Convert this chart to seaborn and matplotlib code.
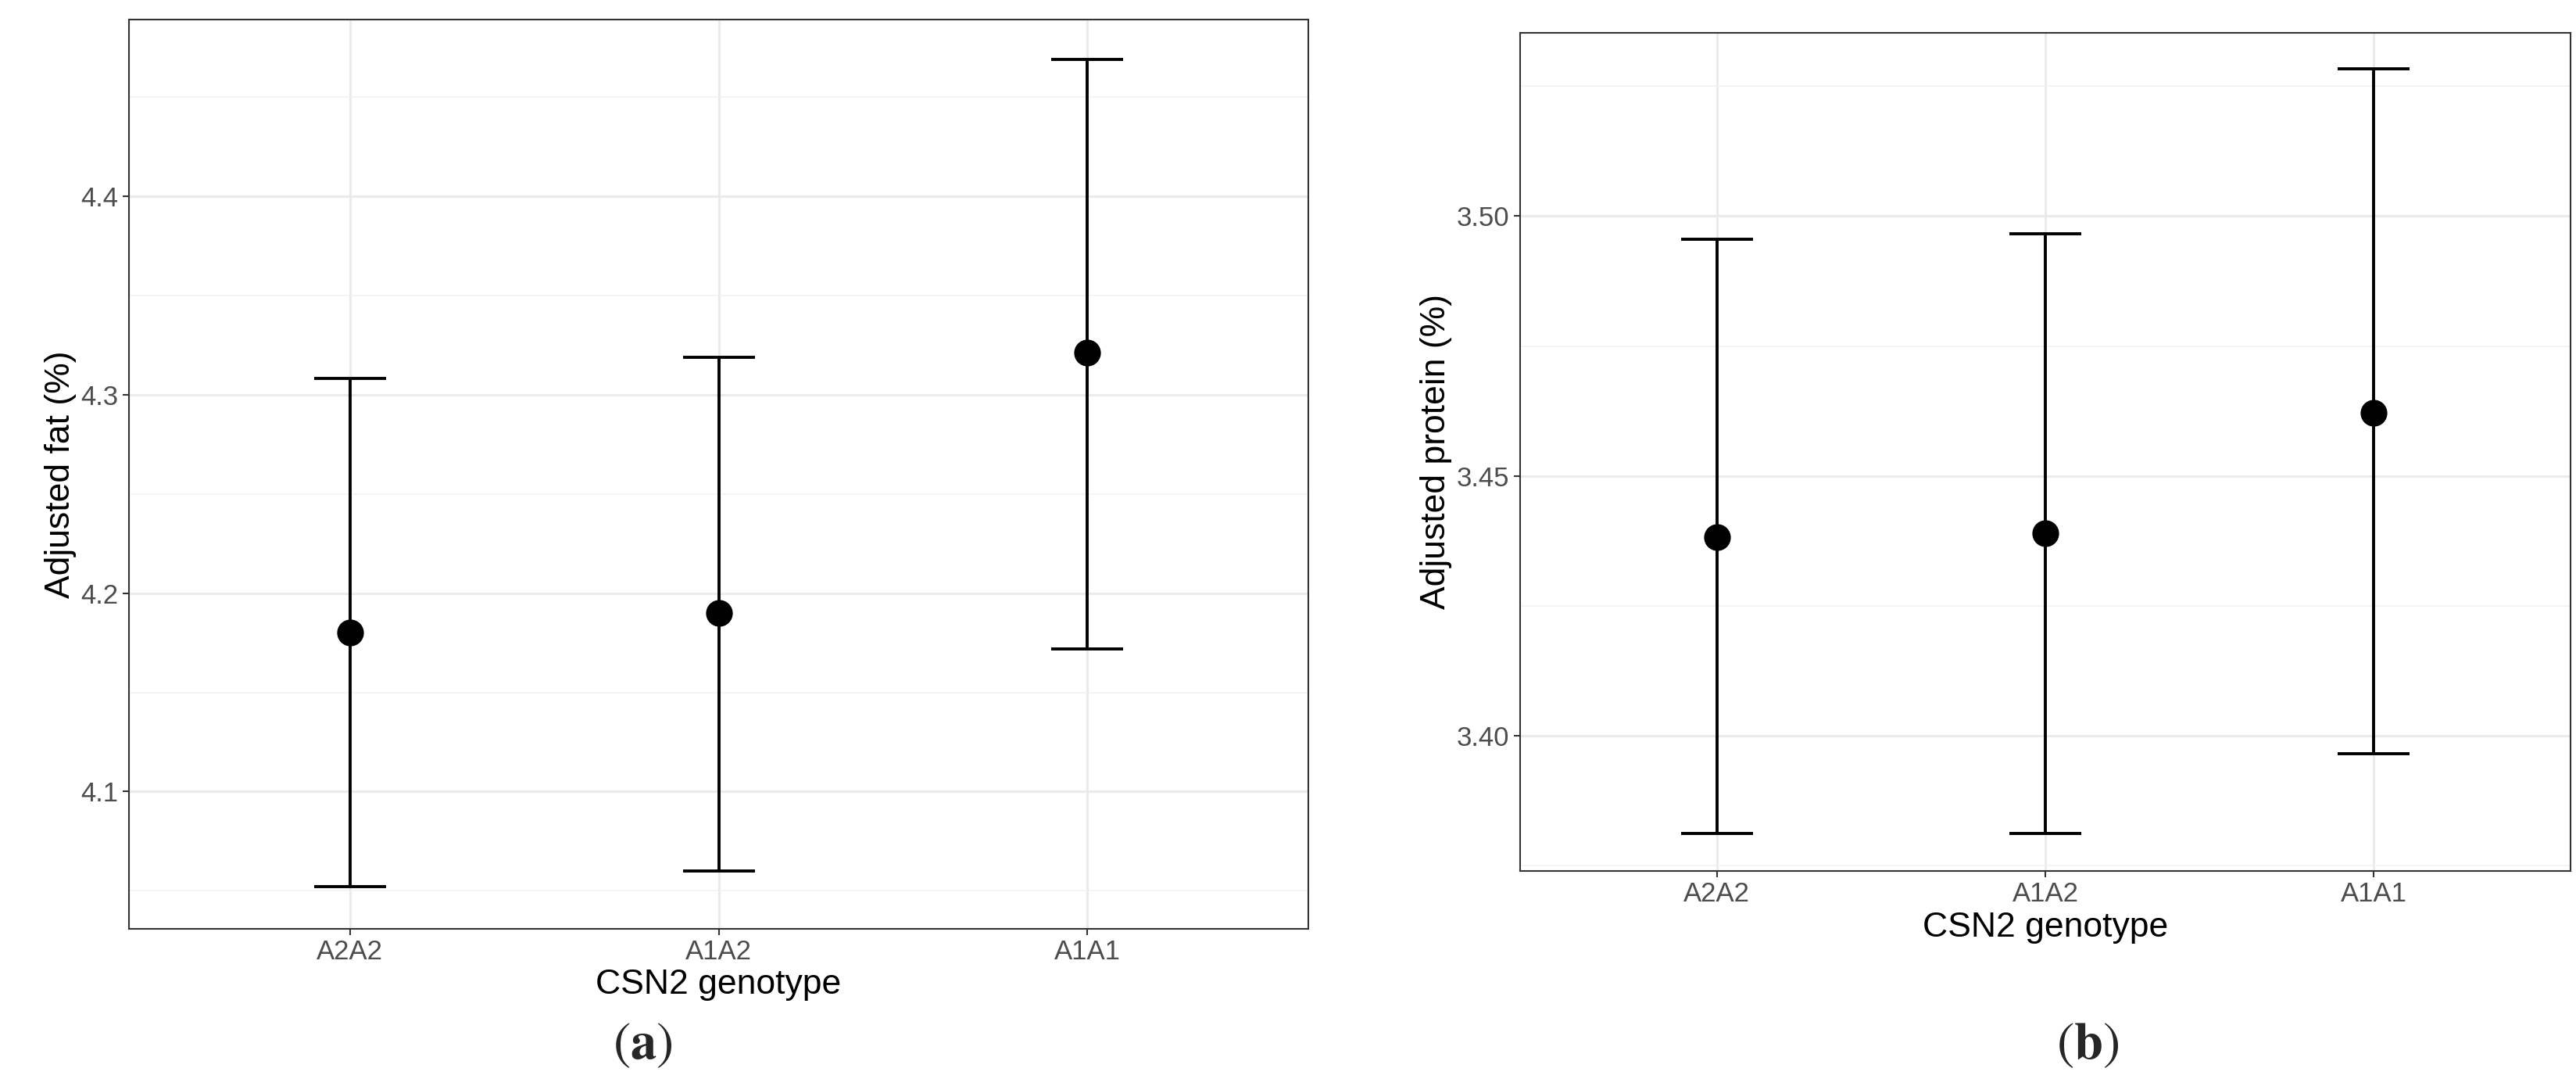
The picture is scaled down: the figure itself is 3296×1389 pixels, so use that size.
import matplotlib
matplotlib.use("Agg")
import matplotlib.pyplot as plt
import seaborn as sns
import pandas as pd
import numpy as np
from matplotlib.ticker import MultipleLocator

genotypes = ["A2A2", "A1A2", "A1A1"]
fat_mean = [4.180, 4.190, 4.321]
fat_lower = [4.052, 4.060, 4.172]
fat_upper = [4.308, 4.319, 4.469]
prot_mean = [3.4383, 3.4390, 3.4622]
prot_lower = [3.3812, 3.3812, 3.3966]
prot_upper = [3.4956, 3.4966, 3.5284]

sns.set_theme(style="whitegrid")
plt.rcParams['font.family'] = ['Liberation Sans', 'DejaVu Sans']
plt.rcParams['mathtext.fontset'] = 'stix'

fig = plt.figure(figsize=(32.96, 13.89), dpi=100)
axA = fig.add_axes([0.050, 0.145, 0.458, 0.837])
axB = fig.add_axes([0.590, 0.198, 0.408, 0.772])

def panel(ax, mean, lo, hi, ylabel, ylim, major, minor, fmt):
    df = pd.DataFrame({"g": genotypes, "m": mean, "lo": lo, "hi": hi})
    x = np.arange(len(genotypes))
    ax.errorbar(x, df["m"], yerr=[df["m"] - df["lo"], df["hi"] - df["m"]],
                fmt="none", ecolor="black", elinewidth=2.8, capsize=33, capthick=2.8, zorder=3)
    sns.scatterplot(data=df, x="g", y="m", ax=ax, color="black", s=520, edgecolor="black", zorder=4)
    ax.set_xlim(-0.6, 2.6)
    ax.set_ylim(*ylim)
    ax.yaxis.set_major_locator(MultipleLocator(major))
    ax.yaxis.set_minor_locator(MultipleLocator(minor))
    ax.yaxis.set_major_formatter(plt.FormatStrFormatter(fmt))
    ax.grid(True, which="major", color="#ebebeb", linewidth=2.2)
    ax.grid(True, which="minor", color="#f2f2f2", linewidth=1.2)
    ax.set_axisbelow(True)
    ax.set_facecolor("white")
    for s in ax.spines.values():
        s.set_color("#333333"); s.set_linewidth(1.5); s.set_visible(True)
    ax.tick_params(axis="both", which="major", labelsize=25, labelcolor="#4d4d4d",
                   length=6, width=1.5, color="#333333", left=True, bottom=True)
    ax.tick_params(axis="both", which="minor", length=0)
    ax.set_xlabel("CSN2 genotype", fontsize=32, color="black", labelpad=4)
    ax.set_ylabel(ylabel, fontsize=32, color="black")

panel(axA, fat_mean, fat_lower, fat_upper, "Adjusted fat (%)", (4.031, 4.489), 0.1, 0.05, "%.1f")
panel(axB, prot_mean, prot_lower, prot_upper, "Adjusted protein (%)", (3.374, 3.5353), 0.05, 0.025, "%.2f")

fig.text(0.2495, 0.025, r"$(\mathbf{a})$", fontsize=48, ha="center")
fig.text(0.8105, 0.025, r"$(\mathbf{b})$", fontsize=48, ha="center")

fig.savefig("out.png", dpi=100)
